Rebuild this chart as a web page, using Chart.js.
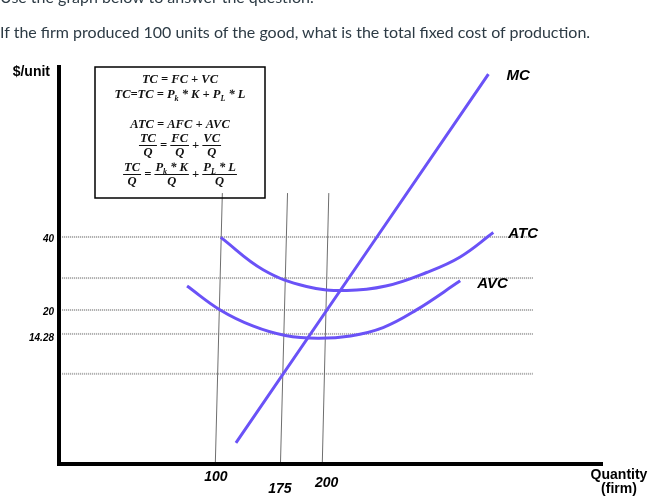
<!DOCTYPE html>
<html lang="en">
<head>
<meta charset="UTF-8">
<title>Cost curves</title>
<script src="https://cdn.jsdelivr.net/npm/chart.js"></script>
<style>
  html, body { margin: 0; padding: 0; background: #fff; overflow: hidden; }
  #wrap { position: relative; width: 652px; height: 501px; }
  canvas { position: absolute; left: 0; top: 0; }
  .q {
    position: absolute; left: 0;
    font-family: Lato, sans-serif; font-size: 16px; line-height: 20px;
    color: #2d3b45; white-space: nowrap;
  }
  #q1 { top: -13px; }
  #q2 { top: 22px; }
</style>
</head>
<body>
<div id="wrap">
  <canvas id="costChart" width="652" height="501"></canvas>
  <div class="q" id="q1">Use the graph below to answer the question.</div>
  <div class="q" id="q2">If the firm produced 100 units of the good, what is the total fixed cost of production.</div>
</div>

<script>
  // schematic units: both axes run 0..100 (the sketch is not drawn to scale)
  const mcX = [32.4, 78.9];
  const mcY = [5.3, 97.7];

  const atcX = [29.6, 37.4, 45.4, 52.8, 60.0, 67.5, 73.7, 79.8];
  const atcY = [56.8, 48.7, 44.5, 43.5, 44.6, 48.0, 51.9, 58.0];

  const avcX = [23.4, 29.5, 35.5, 41.5, 47.5, 53.5, 59.5, 65.5, 73.7];
  const avcY = [44.6, 38.6, 34.6, 32.2, 31.5, 32.1, 34.2, 38.5, 45.9];

  // dotted price levels and the quantity drop lines
  const levelY = [56.9, 46.6, 38.6, 32.6, 22.6];
  const levelX = [0.4, 87.1];
  const dropTopX = [29.9, 41.9, 49.5];
  const dropBottomX = [28.6, 40.6, 48.3];
  const dropY = [67.9, 0];

  // tick labels
  const yTickVals = [56.9, 38.6, 32.6];
  const yTickLabels = ['40', '20', '14.28'];
  const xTickVals = [28.7, 40.5, 49.1];
  const xTickLabels = ['100', '175', '200'];
  const xTickDrop = [13, 25, 19];

  const curveColor = '#6a52f7';

  const pts = (xs, ys) => xs.map((x, i) => ({ x: x, y: ys[i] }));

  const datasets = [];
  levelY.forEach(y => {
    datasets.push({
      data: pts(levelX, [y, y]),
      borderColor: '#a0a0a0', borderWidth: 2, borderDash: [1, 1],
      pointRadius: 0, order: 5
    });
  });
  dropTopX.forEach((x, i) => {
    datasets.push({
      data: pts([x, dropBottomX[i]], dropY),
      borderColor: '#6e6e6e', borderWidth: 1,
      pointRadius: 0, order: 4
    });
  });
  [[atcX, atcY], [avcX, avcY], [mcX, mcY]].forEach(c => {
    datasets.push({
      data: pts(c[0], c[1]),
      borderColor: curveColor, borderWidth: 3, tension: 0.4,
      pointRadius: 0, order: 1
    });
  });

  // math text helpers for the formula box
  const F = 'italic bold 12.5px "Liberation Serif"';
  const FS = 'italic bold 8px "Liberation Serif"';
  function runWidth(ctx, run) {
    let w = 0;
    run.forEach(p => {
      ctx.font = F; w += ctx.measureText(p[0]).width;
      if (p[1]) { ctx.font = FS; w += ctx.measureText(p[1]).width; }
    });
    return w;
  }
  function drawRun(ctx, run, x, y) {
    run.forEach(p => {
      ctx.font = F; ctx.fillText(p[0], x, y); x += ctx.measureText(p[0]).width;
      if (p[1]) { ctx.font = FS; ctx.fillText(p[1], x, y + 3); x += ctx.measureText(p[1]).width; }
    });
  }
  function drawCentered(ctx, run, cx, y) {
    drawRun(ctx, run, cx - runWidth(ctx, run) / 2, y);
  }
  function drawRow(ctx, items, cx, barY) {
    const widths = items.map(it => it.op ? runWidth(ctx, [[it.op]])
      : Math.max(runWidth(ctx, it.num), runWidth(ctx, it.den)) + 2);
    let x = cx - widths.reduce((a, b) => a + b, 0) / 2;
    items.forEach((it, i) => {
      const w = widths[i];
      if (it.op) {
        drawRun(ctx, [[it.op]], x, barY + 4);
      } else {
        drawRun(ctx, it.num, x + (w - runWidth(ctx, it.num)) / 2, barY - 3);
        drawRun(ctx, it.den, x + (w - runWidth(ctx, it.den)) / 2, barY + 11);
        ctx.fillRect(x, barY, w, 1);
      }
      x += w;
    });
  }

  const decor = {
    id: 'decor',
    afterDraw(chart) {
      const ctx = chart.ctx;
      const xs = chart.scales.x, ys = chart.scales.y;
      const x0 = xs.getPixelForValue(0), y0 = ys.getPixelForValue(0);
      const yTop = ys.getPixelForValue(100), xEnd = xs.getPixelForValue(100);
      ctx.save();

      // axes
      ctx.fillStyle = '#000';
      ctx.fillRect(x0 - 3, yTop, 4, y0 - yTop + 2);
      ctx.fillRect(x0 - 3, y0 - 2, xEnd - x0 + 3, 4);

      // tick labels
      ctx.font = 'italic bold 10px Arial';
      ctx.textAlign = 'right'; ctx.textBaseline = 'middle';
      yTickVals.forEach((v, i) => {
        ctx.fillText(yTickLabels[i], x0 - 6, ys.getPixelForValue(v) + (i === 2 ? 4 : 2));
      });
      ctx.font = 'italic bold 14px Arial';
      ctx.textAlign = 'center';
      xTickVals.forEach((v, i) => {
        ctx.fillText(xTickLabels[i], xs.getPixelForValue(v), y0 + xTickDrop[i]);
      });

      // axis titles
      ctx.font = 'bold 14px Arial';
      ctx.textAlign = 'right';
      ctx.fillText('$/unit', x0 - 10, yTop + 7);
      ctx.textAlign = 'center';
      ctx.fillText('Quantity', 619, y0 + 11);
      ctx.fillText('(firm)', 619, y0 + 25);

      // curve labels
      ctx.font = 'italic bold 15px Arial';
      ctx.textAlign = 'left';
      ctx.fillText('MC', xs.getPixelForValue(mcX[1]) + 18, ys.getPixelForValue(mcY[1]) + 2);
      ctx.fillText('ATC', xs.getPixelForValue(atcX[atcX.length - 1]) + 15, ys.getPixelForValue(atcY[atcY.length - 1]) + 1);
      ctx.fillText('AVC', xs.getPixelForValue(avcX[avcX.length - 1]) + 17, ys.getPixelForValue(avcY[avcY.length - 1]) + 3);

      // formula box
      ctx.strokeStyle = '#000'; ctx.lineWidth = 1.5;
      ctx.strokeRect(95, 67, 170, 131);
      ctx.fillStyle = '#111';
      ctx.textAlign = 'left'; ctx.textBaseline = 'alphabetic';
      const cx = 180;
      drawCentered(ctx, [['TC = FC + VC']], cx, 83);
      drawCentered(ctx, [['TC=TC = P', 'k'], [' * K + P', 'L'], [' * L']], cx, 98);
      drawCentered(ctx, [['ATC = AFC + AVC']], cx, 128);
      drawRow(ctx, [
        { num: [['TC']], den: [['Q']] }, { op: ' = ' },
        { num: [['FC']], den: [['Q']] }, { op: ' + ' },
        { num: [['VC']], den: [['Q']] }
      ], cx, 145);
      drawRow(ctx, [
        { num: [['TC']], den: [['Q']] }, { op: ' = ' },
        { num: [['P', 'k'], [' * K']], den: [['Q']] }, { op: ' + ' },
        { num: [['P', 'L'], [' * L']], den: [['Q']] }
      ], cx, 174);

      ctx.restore();
    }
  };

  new Chart(document.getElementById('costChart'), {
    type: 'line',
    data: { datasets: datasets },
    options: {
      responsive: false,
      animation: false,
      events: [],
      layout: { padding: { left: 60, right: 49, top: 65, bottom: 37 } },
      scales: {
        x: { type: 'linear', min: 0, max: 100, display: false },
        y: { type: 'linear', min: 0, max: 100, display: false }
      },
      plugins: { legend: { display: false }, tooltip: { enabled: false } }
    },
    plugins: [decor]
  });
</script>
</body>
</html>
